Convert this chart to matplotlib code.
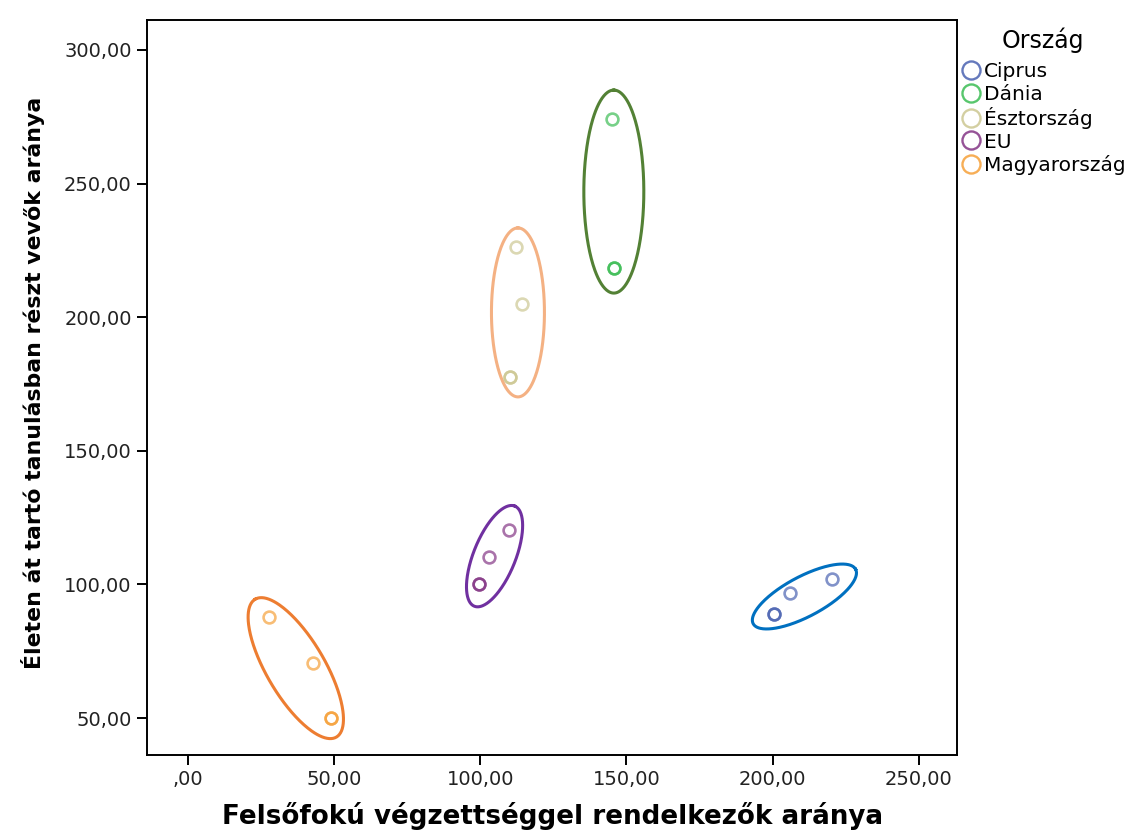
import numpy as np
import matplotlib
matplotlib.use("Agg")
import matplotlib.pyplot as plt
from matplotlib.lines import Line2D

# --- data ------------------------------------------------------------------
countries = ["Ciprus", "Dánia", "Észtország", "EU", "Magyarország"]
x_vals = {
    "Ciprus":       [200.5, 200.5, 206.0, 220.3],
    "Dánia":        [145.0, 145.7, 145.7],
    "Észtország":   [112.2, 114.3, 110.2, 110.2],
    "EU":           [99.6, 99.6, 103.0, 109.8],
    "Magyarország": [27.7, 42.8, 48.9, 48.9],
}
y_vals = {
    "Ciprus":       [89.0, 89.0, 96.8, 102.0],
    "Dánia":        [274.2, 218.4, 218.4],
    "Észtország":   [226.3, 204.9, 177.6, 177.6],
    "EU":           [100.0, 100.0, 110.2, 120.4],
    "Magyarország": [87.8, 70.6, 50.0, 50.0],
}
marker_colors = ["#3E58AC", "#2EB848", "#C9C38A", "#7C287D", "#F59A2C"]

# hand-drawn grouping ellipses: centre in data units, semi-axes in pixels, tilt in degrees
ell_center_x = [210.9, 145.7, 112.9, 104.9, 36.9]
ell_center_y = [95.5, 247.0, 201.8, 110.6, 68.7]
ell_major_px = [58, 101.5, 84.5, 54, 80]
ell_minor_px = [20, 30, 26.5, 21, 29]
ell_angle = [28, 90, 90, 68, 120.5]
ell_colors = ["#0070C0", "#538135", "#F4B183", "#7030A0", "#ED7D31"]

xticks = [0, 50, 100, 150, 200, 250]
yticks = [50, 100, 150, 200, 250, 300]
xlim = (-14.0, 263.1)
ylim = (36.2, 311.2)


def fmt(v):
    s = f"{v:.2f}".replace(".", ",")
    return s[1:] if s.startswith("0") else s


W, H, DPI = 1137, 832, 100
fig = plt.figure(figsize=(W / DPI, H / DPI), dpi=DPI)
ax = fig.add_axes([147 / W, 1 - 755 / H, (957 - 147) / W, (755 - 20) / H])
ax.set_xlim(*xlim)
ax.set_ylim(*ylim)

# pixel -> data scale for the ellipses
sx = (957 - 147) / (xlim[1] - xlim[0])
sy = (755 - 20) / (ylim[1] - ylim[0])

for i, c in enumerate(countries):
    ax.plot(x_vals[c], y_vals[c], ls="none", marker="o", ms=8.5, mfc="none",
            mec=marker_colors[i], mew=1.9, alpha=0.65, zorder=3)

t = np.linspace(0, 2 * np.pi, 300)
for i in range(len(countries)):
    th = np.deg2rad(ell_angle[i])
    a, b = ell_major_px[i], ell_minor_px[i]
    px = a * np.cos(t) * np.cos(th) - b * np.sin(t) * np.sin(th)
    py = a * np.cos(t) * np.sin(th) + b * np.sin(t) * np.cos(th)
    ax.plot(ell_center_x[i] + px / sx, ell_center_y[i] + py / sy,
            color=ell_colors[i], lw=2.2, zorder=2)

ax.set_xticks(xticks)
ax.set_yticks(yticks)
ax.set_xticklabels([fmt(v) for v in xticks], fontsize=14, color="#222")
ax.set_yticklabels([fmt(v) for v in yticks], fontsize=14, color="#222")
ax.tick_params(length=7, width=1.4, direction="out", pad=4)
for sp in ax.spines.values():
    sp.set_linewidth(1.4)

fig.text(553 / W, 1 - 816 / H, "Felsőfokú végzettséggel rendelkezők aránya",
         fontsize=18.8, fontweight="bold", ha="center", va="center")
fig.text(33 / W, 1 - 383 / H, "Életen át tartó tanulásban részt vevők aránya",
         fontsize=15.8, fontweight="bold", ha="center", va="center", rotation=90)

handles = [Line2D([], [], ls="none", marker="o", ms=13, mfc="none",
                  mec=marker_colors[i], mew=1.7, alpha=0.8)
           for i in range(len(countries))]
leg = fig.legend(handles, countries, loc="upper left",
                 bbox_to_anchor=(955 / W, 1 - 23 / H), frameon=False,
                 title="Ország", title_fontsize=17, fontsize=14.5,
                 handletextpad=0.1, labelspacing=0.17, handlelength=1.15,
                 borderaxespad=0, borderpad=0.2)
leg._legend_box.align = "center"
leg._legend_box.sep = 7

fig.savefig("out.png", dpi=DPI)
